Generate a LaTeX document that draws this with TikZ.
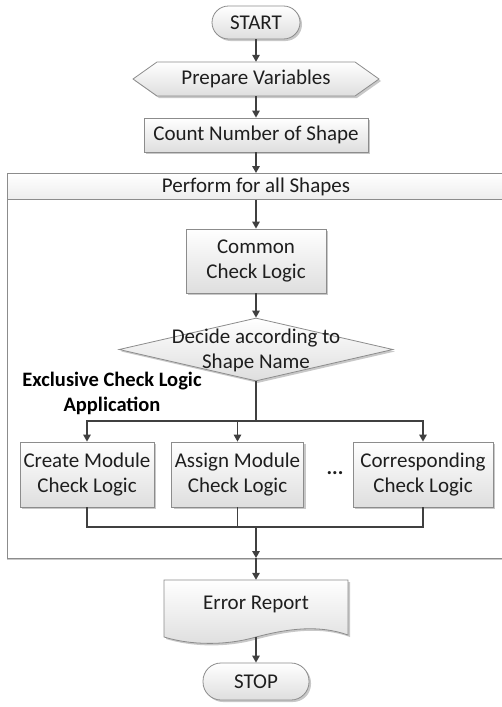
\documentclass[tikz,border=0pt]{standalone}
\usepackage{fontspec}
\setmainfont{Carlito}
\usetikzlibrary{arrows.meta,shadows,shapes.geometric}
\definecolor{bordgray}{RGB}{140,140,140}
\definecolor{fillgray}{RGB}{222,222,222}
\definecolor{shadgray}{RGB}{200,200,200}
\definecolor{arrgray}{RGB}{64,64,64}
\definecolor{txtgray}{RGB}{30,30,30}
\begin{document}
\begin{tikzpicture}[x=1pt,y=-1pt,
  every node/.style={font=\fontsize{21}{25}\selectfont, text=txtgray, align=center, inner sep=0pt},
  boxsh/.style={draw=bordgray, line width=0.8pt, top color=white, bottom color=fillgray,
    drop shadow={shadow xshift=2pt, shadow yshift=-2pt, fill=shadgray, opacity=1}},
  procbox/.style={boxsh, rectangle},
  term/.style={boxsh, rectangle},
  ghost/.style={rectangle, draw=none, fill=none},
  arr/.style={draw=arrgray, line width=1.5pt, -{Triangle[length=7pt,width=7.5pt]}},
  ln/.style={draw=arrgray, line width=1.5pt},
  lbl/.style={font=\bfseries\fontsize{20.5}{25}\selectfont, text=black}
]
\useasboundingbox (0,0) rectangle (501,707);

% container
\path[draw=bordgray, line width=0.8pt, fill=white,
  drop shadow={shadow xshift=0pt, shadow yshift=-2pt, fill=shadgray, opacity=1}]
  (7,173) rectangle (520,558);
\node[draw=bordgray, line width=0.8pt, top color=white, bottom color=black!7,
  minimum width=513pt, minimum height=26pt, anchor=north west] (ptitle) at (7,173) {};
\node at (256,186.5) {Perform for all Shapes};
\coordinate (cbot) at (256,558);

% START
\node[term, rounded corners=16.5pt, minimum width=88pt, minimum height=33pt] (start) at (256,22.5) {START};

% Prepare Variables (hexagon)
\path[boxsh] (133,79) -- (157,62) -- (355,62) -- (379,79) -- (355,96) -- (157,96) -- cycle;
\node[ghost, minimum width=246pt, minimum height=34pt] (prep) at (256,79) {Prepare Variables};

% Count
\node[procbox, minimum width=224pt, minimum height=34pt] (count) at (256,135) {Count Number of Shape};

% Common
\node[procbox, minimum width=140pt, minimum height=64pt] (common) at (256,261) {Common\\Check Logic};

% Decision
\node[boxsh, diamond, minimum width=274pt, minimum height=63pt] (dec) at (256,349.5) {};
\node (dectext) at (256,350) {Decide according to\\Shape Name};

% label
\node[lbl] (exlbl) at (112,393) {Exclusive Check Logic\\Application};

% branch boxes
\node[procbox, minimum width=134pt, minimum height=65pt] (create) at (87,474.5) {Create Module\\Check Logic};
\node[procbox, minimum width=132pt, minimum height=65pt] (assign) at (237.5,474.5) {Assign Module\\Check Logic};
\node[procbox, minimum width=140pt, minimum height=65pt] (corr) at (423,474.5) {Corresponding\\Check Logic};
\node (dots) at (335,473) {\bfseries ...};

\coordinate (br) at (256,421);
\coordinate (mg) at (256,527);

% Error report
\path[boxsh] (164,580) -- (348,580) -- (348,635)
  .. controls (320,625) and (290,628) .. (256,637)
  .. controls (225,646) and (190,645) .. (164,637) -- cycle;
\node[ghost, minimum width=184pt, minimum height=57pt] (errshape) at (256,608.5) {};
\node (errtext) at (256,604) {Error Report};

% STOP
\node[term, rounded corners=18pt, minimum width=106pt, minimum height=37pt] (stop) at (256,681.5) {STOP};

% connectors
\draw[arr] (start) -- (prep);
\draw[arr] (prep) -- (count);
\draw[arr] (count.south) -- (count.south |- ptitle.north);
\draw[arr] (count.south |- ptitle.south) -- (common.north);
\draw[arr] (common) -- (dec);
\draw[ln] (dec.south) -- (br);
\draw[arr] (br) -| (create.north);
\draw[arr] (br) -| (assign.north);
\draw[arr] (br) -| (corr.north);
\draw[ln] (create.south) |- (mg);
\draw[ln] (corr.south) |- (mg);
\draw[ln] (assign.south) -- (assign.south |- mg);
\draw[arr] (mg) -- (cbot);
\draw[arr] (cbot) -- (errshape.north);
\draw[arr] (errshape.south) -- (stop.north);
\end{tikzpicture}
\end{document}
